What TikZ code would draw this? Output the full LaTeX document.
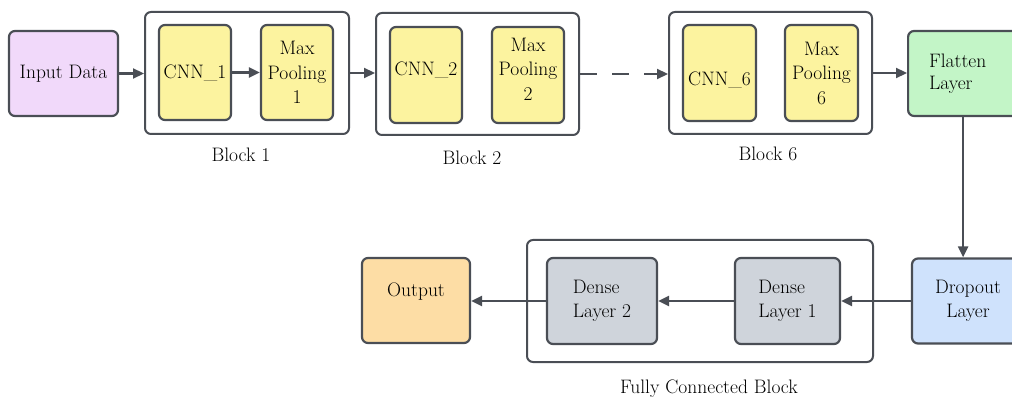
\documentclass[tikz,border=0pt]{standalone}
\usetikzlibrary{arrows.meta}
\definecolor{edge}{HTML}{4A4E55}
\definecolor{cpurp}{HTML}{F1D9FA}
\definecolor{cyell}{HTML}{FCF39F}
\definecolor{cgreen}{HTML}{C3F5C7}
\definecolor{cblue}{HTML}{CFE2FC}
\definecolor{cgray}{HTML}{CFD4DB}
\definecolor{corange}{HTML}{FDDDA5}
\begin{document}
\begin{tikzpicture}[x=1pt,y=-1pt,
  box/.style={draw=edge, line width=2.2pt, rounded corners=6pt, inner sep=0pt, align=center,
              font=\fontsize{19.5}{24.5}\selectfont},
  outerbox/.style={draw=edge, line width=2pt, rounded corners=6pt, inner sep=0pt, fill=white},
  arr/.style={draw=edge, line width=2.2pt, -{Triangle[length=11pt,width=10pt]}},
  lbl/.style={font=\fontsize{19.5}{24.5}\selectfont, inner sep=0pt}]
\useasboundingbox (0,0) rectangle (1012,398);
\clip (0,0) rectangle (1012,398);

% outer blocks
\node[outerbox, minimum width=204pt, minimum height=122pt] (b1) at (247,73) {};
\node[outerbox, minimum width=203pt, minimum height=122pt] (b2) at (477.5,74) {};
\node[outerbox, minimum width=203pt, minimum height=122pt] (b6) at (770.5,73) {};
\node[outerbox, minimum width=346pt, minimum height=122pt] (fc) at (700,301) {};

% top row
\node[box, fill=cpurp, minimum width=109pt, minimum height=85pt] (in) at (63.5,73.5) {Input Data};
\node[box, fill=cyell, minimum width=72pt, minimum height=95pt] (c1) at (195,72.5) {CNN\_1};
\node[box, fill=cyell, minimum width=72pt, minimum height=95pt] (m1) at (297,72.5) {Max\\Pooling\\1};
\node[box, fill=cyell, minimum width=72pt, minimum height=96pt] (c2) at (426,75) {\raisebox{5pt}[\height][\depth]{CNN\_2}};
\node[box, fill=cyell, minimum width=72pt, minimum height=96pt] (m2) at (528,75)
  {\raisebox{4pt}[\height][\depth]{\begin{tabular}{@{}c@{}}Max\\Pooling\\2\end{tabular}}};
\node[box, fill=cyell, minimum width=73pt, minimum height=96pt] (c6) at (719.5,73) {\raisebox{-7pt}[\height][\depth]{CNN\_6}};
\node[box, fill=cyell, minimum width=73pt, minimum height=96pt] (m6) at (821.5,73) {Max\\Pooling\\6};
\node[box, fill=cgreen, minimum height=85pt, text width=80pt, inner xsep=21pt, align=left,
      font=\fontsize{19.5}{22.5}\selectfont, anchor=west] (fl) at (907,73.5) {Flatten\\Layer};

% bottom row
\node[box, fill=cblue, minimum width=112pt, minimum height=85pt] (dr) at (968,301) {Dropout\\Layer};
\node[box, fill=cgray, minimum width=105pt, minimum height=86pt, align=left] (d1) at (787.5,301) {Dense\\Layer 1};
\node[box, fill=cgray, minimum width=110pt, minimum height=86pt, align=left] (d2) at (602,301) {Dense\\Layer 2};
\node[box, fill=corange, minimum width=108pt, minimum height=85pt] (out) at (416,300.5) {\raisebox{9pt}[\height][\depth]{Output}};

% labels
\node[lbl] (l1) at (241,155) {Block 1};
\node[lbl] (l2) at (472,158) {Block 2};
\node[lbl] (l6) at (768,153.5) {Block 6};
\node[lbl] (lfc) at (709,389) {Fully Connected Block};

% connectors
\draw[arr] (in.east) -- (in.east -| b1.west);
\draw[arr] (c1.east) -- (c1.east -| m1.west);
\draw[arr] (b1.east) -- (b1.east -| b2.west);
\draw[arr, dash pattern=on 17pt off 15pt] (b2.east) -- (b2.east -| b6.west);
\draw[arr] (b6.east) -- (b6.east -| fl.west);
\draw[arr] ([xshift=-6pt]fl.south) -- ([xshift=-6pt]fl.south |- dr.north);
\draw[arr] (dr.west) -- (dr.west -| d1.east);
\draw[arr] (d1.west) -- (d1.west -| d2.east);
\draw[arr] (d2.west) -- (d2.west -| out.east);
\end{tikzpicture}
\end{document}
